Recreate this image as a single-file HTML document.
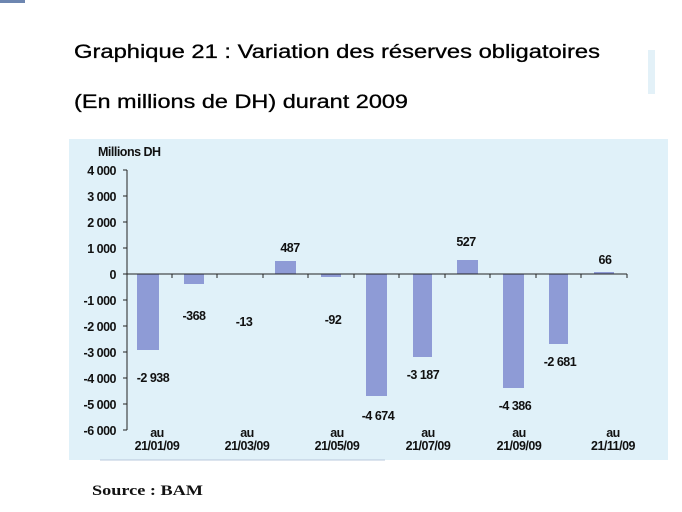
<!DOCTYPE html>
<html><head><meta charset="utf-8"><style>
html,body{margin:0;padding:0;background:#fff;width:682px;height:512px;overflow:hidden}
svg{display:block}
.t{font-family:"Liberation Sans",sans-serif;font-size:19px;fill:#000;stroke:#000;stroke-width:0.3}
.a{font-family:"Liberation Sans",sans-serif;font-size:12.5px;font-weight:bold;fill:#111;letter-spacing:-0.5px}
</style></head><body>
<svg width="682" height="512" xmlns="http://www.w3.org/2000/svg">
<rect x="0" y="0" width="25" height="3" fill="#6d86b0"/>
<rect x="648" y="50" width="7" height="44" fill="#e3f1f8"/>
<text class="t" x="74" y="58" textLength="526" lengthAdjust="spacingAndGlyphs">Graphique 21 : Variation des réserves obligatoires</text>
<text class="t" x="74" y="108" textLength="334" lengthAdjust="spacingAndGlyphs">(En millions de DH) durant 2009</text>
<rect x="69" y="139" width="599" height="321" fill="#e0f1f9"/>
<line x1="100" y1="460" x2="385" y2="460" stroke="#b8c8dc" stroke-width="1"/>
<text class="a" x="98" y="156">Millions DH</text>
<g text-anchor="end">
<text class="a" x="116" y="175">4 000</text>
<text class="a" x="116" y="201">3 000</text>
<text class="a" x="116" y="227">2 000</text>
<text class="a" x="116" y="253">1 000</text>
<text class="a" x="116" y="279">0</text>
<text class="a" x="116" y="305">-1 000</text>
<text class="a" x="116" y="331">-2 000</text>
<text class="a" x="116" y="357">-3 000</text>
<text class="a" x="116" y="383">-4 000</text>
<text class="a" x="116" y="409">-5 000</text>
<text class="a" x="116" y="435">-6 000</text>
</g>
<g stroke="#222" stroke-width="1">
<line x1="127" y1="170" x2="127" y2="430"/>
<line x1="123" y1="170" x2="127" y2="170"/><line x1="123" y1="196" x2="127" y2="196"/>
<line x1="123" y1="222" x2="127" y2="222"/><line x1="123" y1="248" x2="127" y2="248"/>
<line x1="123" y1="274" x2="127" y2="274"/><line x1="123" y1="300" x2="127" y2="300"/>
<line x1="123" y1="326" x2="127" y2="326"/><line x1="123" y1="352" x2="127" y2="352"/>
<line x1="123" y1="378" x2="127" y2="378"/><line x1="123" y1="404" x2="127" y2="404"/>
<line x1="123" y1="430" x2="127" y2="430"/>
</g>
<g fill="#8e9bd6">
<rect x="137" y="274" width="22" height="76"/>
<rect x="184" y="274" width="20" height="10"/>
<rect x="229" y="274" width="20" height="0.5"/>
<rect x="275" y="261" width="21" height="13"/>
<rect x="321" y="274" width="20" height="3"/>
<rect x="366" y="274" width="21" height="122"/>
<rect x="413" y="274" width="19" height="83"/>
<rect x="457" y="260" width="21" height="14"/>
<rect x="503" y="274" width="21" height="114"/>
<rect x="549" y="274" width="19" height="70"/>
<rect x="594" y="272" width="20" height="2"/>
</g>
<g stroke="#222" stroke-width="1">
<line x1="127" y1="274" x2="627" y2="274"/>
<line x1="172" y1="274" x2="172" y2="278"/><line x1="217" y1="274" x2="217" y2="278"/>
<line x1="263" y1="274" x2="263" y2="278"/><line x1="308" y1="274" x2="308" y2="278"/>
<line x1="354" y1="274" x2="354" y2="278"/><line x1="399" y1="274" x2="399" y2="278"/>
<line x1="445" y1="274" x2="445" y2="278"/><line x1="490" y1="274" x2="490" y2="278"/>
<line x1="536" y1="274" x2="536" y2="278"/><line x1="581" y1="274" x2="581" y2="278"/>
<line x1="627" y1="274" x2="627" y2="278"/>
</g>
<g text-anchor="middle">
<text class="a" x="153" y="382">-2 938</text>
<text class="a" x="194" y="320">-368</text>
<text class="a" x="244" y="326">-13</text>
<text class="a" x="290" y="252">487</text>
<text class="a" x="333" y="324">-92</text>
<text class="a" x="378" y="420">-4 674</text>
<text class="a" x="423" y="379">-3 187</text>
<text class="a" x="466" y="246">527</text>
<text class="a" x="515" y="410">-4 386</text>
<text class="a" x="560" y="366">-2 681</text>
<text class="a" x="605" y="264">66</text>
<text class="a" x="157" y="437">au</text><text class="a" x="157" y="450">21/01/09</text>
<text class="a" x="247" y="437">au</text><text class="a" x="247" y="450">21/03/09</text>
<text class="a" x="337" y="437">au</text><text class="a" x="337" y="450">21/05/09</text>
<text class="a" x="428" y="437">au</text><text class="a" x="428" y="450">21/07/09</text>
<text class="a" x="519" y="437">au</text><text class="a" x="519" y="450">21/09/09</text>
<text class="a" x="613" y="437">au</text><text class="a" x="613" y="450">21/11/09</text>
</g>
<text x="92" y="495" style="font-family:'Liberation Serif',serif;font-weight:bold;font-size:15px;fill:#111" textLength="111" lengthAdjust="spacingAndGlyphs">Source : BAM</text>
</svg>
</body></html>
